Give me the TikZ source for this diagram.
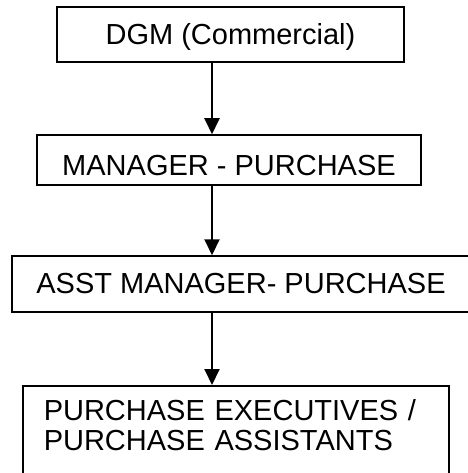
\documentclass[tikz,border=0pt]{standalone}
\usepackage{fontspec}
\setmainfont{Liberation Sans}
\usepackage{tikz}
\usetikzlibrary{arrows.meta, positioning, calc}

\tikzset{
  post/.style={draw=black, line width=1.5pt, inner sep=0pt, font=\fontsize{29}{30}\selectfont, text height=21pt, text depth=0pt},
  down/.style={-{Triangle[length=16pt, width=15pt]}, line width=2pt, shorten <=-0.75pt}
}

\begin{document}
\begin{tikzpicture}[x=1pt, y=-1pt]
  \useasboundingbox (0,0) rectangle (467,473);
  \coordinate (spine) at (212,0);

  % Top post
  \node[post, minimum width=347pt, minimum height=55pt] (dgm) at (230.5, 34.5) {DGM (Commercial)};

  % Manager
  \node[post, minimum width=384pt, minimum height=50pt, text height=31pt] (mgr) at (229, 160) {MANAGER - PURCHASE};
  \draw[down] (dgm.south -| spine) -- (mgr.north -| spine);

  % Assistant manager (runs off the right edge)
  \node[post, minimum width=458pt, minimum height=56pt, text depth=3pt] (asst) at (241, 284) {ASST MANAGER- PURCHASE};
  \draw[down] (mgr.south -| spine) -- (asst.north -| spine);

  % Executives (runs off the bottom edge)
  \node[draw=black, line width=1.5pt, font=\fontsize{29}{30}\selectfont, anchor=north west, text width=384pt, inner xsep=21pt, inner ysep=0pt, minimum height=93pt, align=left] (exec) at (22, 385) {PURCHASE EXECUTIVES /\\PURCHASE ASSISTANTS\rule[-14pt]{0pt}{14pt}};
  \draw[down] (asst.south -| spine) -- (exec.north -| spine);
\end{tikzpicture}
\end{document}
